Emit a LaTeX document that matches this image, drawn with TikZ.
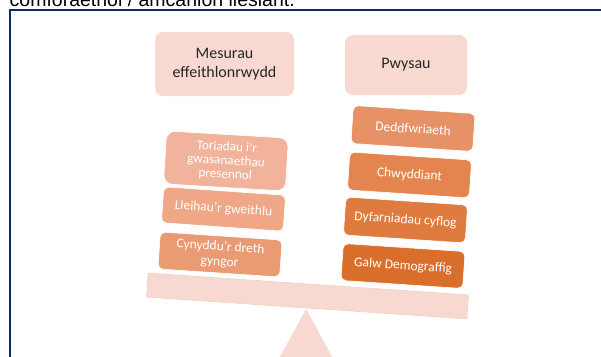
\documentclass[tikz,border=0pt]{standalone}
\usepackage{fontspec}
\setmainfont{Carlito}
\newfontfamily\arialfont{Liberation Sans}
\definecolor{frame}{HTML}{0B2B6E}
\definecolor{hdrpink}{HTML}{F7D9D1}
\definecolor{hdrtext}{HTML}{262626}
\definecolor{beamedge}{HTML}{F3CFC5}
\definecolor{cL1}{HTML}{F2B39C}
\definecolor{cL2}{HTML}{EFA787}
\definecolor{cL3}{HTML}{EA9B74}
\definecolor{cR1}{HTML}{E79167}
\definecolor{cR2}{HTML}{E4854F}
\definecolor{cR3}{HTML}{E07B40}
\definecolor{cR4}{HTML}{DA6F2C}
\begin{document}
\begin{tikzpicture}[x=1pt,y=-1pt,
  hdr/.style={fill=hdrpink, rounded corners=8pt, align=center, inner sep=0pt,
    text=hdrtext, font=\fontsize{16}{19}\selectfont},
  blk/.style={rounded corners=5pt, align=center, inner sep=0pt, text=white,
    draw=white, line width=0.6pt, minimum width=122pt,
    font=\fontsize{13.5}{15}\selectfont},
  toptext/.style={anchor=base west, inner sep=0pt, font=\arialfont\fontsize{19.5}{22}\selectfont}]
\useasboundingbox (0,0) rectangle (601,356);
\clip (0,0) rectangle (601,356);
% top caption (cut off)
\node[toptext] (cap) at (9.5,6.5) {comforaethol / amcanion llesiant.};
% frame
\coordinate (fbl) at (10,365);
\coordinate (ftl) at (10,10);
\coordinate (ftr) at (610,10);
\draw[frame, line width=2pt] (fbl) -- (ftl) -- (ftr);
% headers
\node[hdr, minimum width=139pt, minimum height=64pt] (h1) at (224.5,64) {Mesurau\\effeithlonrwydd};
\node[hdr, minimum width=122pt, minimum height=60pt] (h2) at (406,65) {Pwysau};
% fulcrum
\coordinate (apex) at (306,309);
\coordinate (bl) at (270,375);
\coordinate (br) at (342,375);
\fill[hdrpink] (apex) -- (bl) -- (br) -- cycle;
% beam
\node[fill=hdrpink, draw=beamedge, line width=0.6pt, minimum width=321pt, minimum height=24pt,
  inner sep=0pt, rotate=-3.9] (beam) at (307.5,296) {};
% left stack
\node[blk, fill=cL1, rounded corners=9pt, minimum height=53pt, rotate=-3.4,
  font=\fontsize{13.2}{13.8}\selectfont] (l1) at (226,161) {Toriadau i'r\\gwasanaethau\\presennol};
\node[blk, fill=cL2, minimum height=36pt, rotate=-4] (l2) at (223.5,209) {Lleihau'r gweithlu};
\node[blk, fill=cL3, minimum height=37pt, rotate=-3.8] (l3) at (220,254.5) {Cynyddu'r dreth\\gyngor};
% right stack
\node[blk, fill=cR1, minimum height=38pt, rotate=-3.8] (r1) at (413,128.5) {Deddfwriaeth};
\node[blk, fill=cR2, minimum height=38pt, rotate=-3.8] (r2) at (409.5,175) {Chwyddiant};
\node[blk, fill=cR3, minimum height=38pt, rotate=-3.8] (r3) at (405.5,220) {Dyfarniadau cyflog};
\node[blk, fill=cR4, minimum height=37pt, rotate=-3.8] (r4) at (403,266) {Galw Demograffig};
\end{tikzpicture}
\end{document}
